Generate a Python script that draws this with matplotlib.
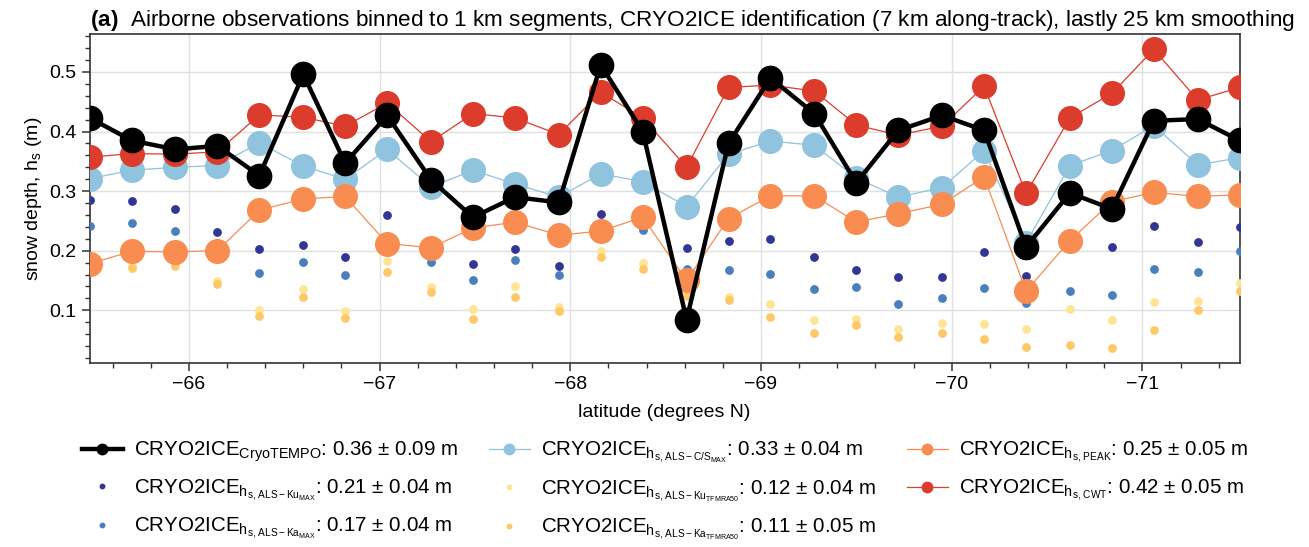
import numpy as np
import matplotlib
matplotlib.use("Agg")
import matplotlib.pyplot as plt
from matplotlib.ticker import MultipleLocator

plt.rcParams["font.family"] = ["Liberation Sans", "DejaVu Sans"]
plt.rcParams["mathtext.fontset"] = "custom"
plt.rcParams["mathtext.rm"] = "Liberation Sans"
plt.rcParams["mathtext.it"] = "Liberation Sans:italic"
plt.rcParams["mathtext.bf"] = "Liberation Sans:bold"
plt.rcParams["mathtext.default"] = "regular"

# Along-track latitude of each CRYO2ICE segment
lat = [-65.48, -65.70, -65.93, -66.15, -66.37, -66.60, -66.82, -67.04,
       -67.27, -67.49, -67.71, -67.94, -68.16, -68.38, -68.61, -68.83,
       -69.05, -69.28, -69.50, -69.72, -69.95, -70.17, -70.39, -70.62,
       -70.84, -71.06, -71.29, -71.51]

# Snow depth (m) per method
hs_cryotempo = [0.423, 0.385, 0.370, 0.376, 0.326, 0.496, 0.347, 0.427,
                0.319, 0.256, 0.290, 0.281, 0.512, 0.400, 0.084, 0.380,
                0.490, 0.430, 0.314, 0.402, 0.427, 0.402, 0.206, 0.297,
                0.270, 0.418, 0.421, 0.385]
hs_ku_max = [0.285, 0.283, 0.270, 0.232, 0.203, 0.209, 0.189, 0.260,
             0.205, 0.178, 0.202, 0.174, 0.261, 0.255, 0.205, 0.216,
             0.220, 0.189, 0.167, 0.155, 0.155, 0.197, 0.157, 0.210,
             0.207, 0.242, 0.215, 0.240]
hs_ka_max = [0.241, 0.247, 0.233, 0.195, 0.163, 0.181, 0.160, 0.205,
             0.181, 0.150, 0.184, 0.159, 0.225, 0.234, 0.170, 0.167,
             0.161, 0.135, 0.139, 0.110, 0.121, 0.138, 0.113, 0.132,
             0.126, 0.170, 0.164, 0.199]
hs_cs_max = [0.321, 0.335, 0.340, 0.343, 0.381, 0.342, 0.320, 0.370,
             0.307, 0.335, 0.312, 0.290, 0.329, 0.316, 0.274, 0.362,
             0.384, 0.377, 0.322, 0.290, 0.306, 0.368, 0.213, 0.343,
             0.368, 0.410, 0.344, 0.356]
hs_ku_tfmra50 = [0.190, 0.175, 0.178, 0.149, 0.101, 0.135, 0.099, 0.182,
                 0.139, 0.102, 0.141, 0.105, 0.199, 0.179, 0.128, 0.123,
                 0.110, 0.084, 0.085, 0.069, 0.078, 0.077, 0.068, 0.102,
                 0.083, 0.114, 0.115, 0.145]
hs_ka_tfmra50 = [0.175, 0.171, 0.175, 0.144, 0.090, 0.122, 0.087, 0.164,
                 0.131, 0.086, 0.123, 0.099, 0.190, 0.170, 0.124, 0.117,
                 0.088, 0.062, 0.075, 0.055, 0.061, 0.051, 0.039, 0.041,
                 0.036, 0.066, 0.101, 0.132]
hs_peak = [0.178, 0.199, 0.198, 0.200, 0.268, 0.287, 0.291, 0.212,
           0.205, 0.238, 0.248, 0.226, 0.233, 0.256, 0.150, 0.254,
           0.292, 0.292, 0.248, 0.262, 0.278, 0.324, 0.132, 0.217,
           0.282, 0.298, 0.291, 0.294]
hs_cwt = [0.357, 0.363, 0.362, 0.366, 0.428, 0.424, 0.409, 0.448,
          0.383, 0.430, 0.423, 0.395, 0.466, 0.423, 0.340, 0.474,
          0.478, 0.468, 0.411, 0.394, 0.409, 0.476, 0.296, 0.423,
          0.464, 0.538, 0.453, 0.474]

# Legend statistics (mean ± std)
labels = [
    r"CRYO2ICE$_{CryoTEMPO}$: 0.36 ± 0.09 m",
    r"CRYO2ICE$_{h_{s,\,ALS-Ku_{MAX}}}$: 0.21 ± 0.04 m",
    r"CRYO2ICE$_{h_{s,\,ALS-Ka_{MAX}}}$: 0.17 ± 0.04 m",
    r"CRYO2ICE$_{h_{s,\,ALS-C/S_{MAX}}}$: 0.33 ± 0.04 m",
    r"CRYO2ICE$_{h_{s,\,ALS-Ku_{TFMRA50}}}$: 0.12 ± 0.04 m",
    r"CRYO2ICE$_{h_{s,\,ALS-Ka_{TFMRA50}}}$: 0.11 ± 0.05 m",
    r"CRYO2ICE$_{h_{s,\,PEAK}}$: 0.25 ± 0.05 m",
    r"CRYO2ICE$_{h_{s,\,CWT}}$: 0.42 ± 0.05 m",
]

fig = plt.figure(figsize=(13.09, 5.47), dpi=100)
ax = fig.add_axes([0.0685, 0.337, 0.8785, 0.6])

dot_ms = 5.3
big_ms = 17
h_ku, = ax.plot(lat, hs_ku_max, ls="none", marker="o", ms=dot_ms,
                color="#313695", zorder=3)
h_ka, = ax.plot(lat, hs_ka_max, ls="none", marker="o", ms=dot_ms,
                color="#4a7fbd", zorder=3)
h_kut, = ax.plot(lat, hs_ku_tfmra50, ls="none", marker="o", ms=dot_ms,
                 color="#fee594", zorder=3)
h_kat, = ax.plot(lat, hs_ka_tfmra50, ls="none", marker="o", ms=dot_ms,
                 color="#fdc968", zorder=3)
h_cs, = ax.plot(lat, hs_cs_max, "-o", lw=0.9, ms=big_ms,
                color="#8fc3de", zorder=4)
h_pk, = ax.plot(lat, hs_peak, "-o", lw=0.9, ms=big_ms,
                color="#f88c51", zorder=5)
h_cwt, = ax.plot(lat, hs_cwt, "-o", lw=0.9, ms=big_ms,
                 color="#dc3c2b", zorder=6)
h_ct, = ax.plot(lat, hs_cryotempo, "-o", lw=3.2, ms=big_ms + 0.5,
                color="black", zorder=7)

ax.set_xlim(lat[0], lat[-1])
ax.set_ylim(0.012, 0.563)
ax.xaxis.set_major_locator(MultipleLocator(1))
ax.xaxis.set_minor_locator(MultipleLocator(0.2))
ax.yaxis.set_major_locator(MultipleLocator(0.1))
ax.yaxis.set_minor_locator(MultipleLocator(0.02))
ax.tick_params(which="major", direction="out", length=6, width=1.1,
               labelsize=14, color="#333333")
ax.tick_params(which="minor", direction="out", length=3.5, width=1.0,
               color="#333333")
ax.grid(which="major", color="#e0e0e0", lw=1.0, zorder=0)
for sp in ax.spines.values():
    sp.set_color("#333333")
    sp.set_linewidth(1.2)

ax.set_xlabel("latitude (degrees N)", fontsize=14, labelpad=8)
ax.set_ylabel(r"snow depth, h$_s$ (m)", fontsize=14)
ax.set_title(r"$\bf{(a)}$  Airborne observations binned to 1 km segments, "
             "CRYO2ICE identification (7 km along-track), lastly 25 km smoothing",
             loc="left", fontsize=16.2, pad=6)

handles = [h_ct, h_ku, h_ka, h_cs, h_kut, h_kat, h_pk, h_cwt]
leg = ax.legend(handles, labels, loc="upper center",
                bbox_to_anchor=(0.5, -0.178), ncol=3, frameon=False,
                fontsize=14.8, handlelength=2.0, handletextpad=0.53,
                columnspacing=1.5, labelspacing=0.65)
# smaller markers in the legend keys
for lh in leg.legend_handles:
    if lh.get_linestyle() == "None":
        lh.set_markersize(3.2)
    else:
        lh.set_markersize(7.5)

fig.savefig("out.png", dpi=100)
